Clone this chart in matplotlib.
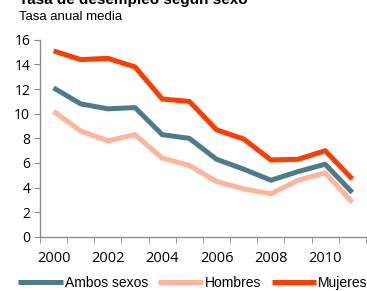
import numpy as np
import matplotlib.pyplot as plt

years = np.arange(2000, 2012)
ambos = [12.1, 10.8, 10.4, 10.5, 8.3, 8.0, 6.3, 5.5, 4.6, 5.3, 5.9, 3.6]
hombres = [10.2, 8.6, 7.8, 8.3, 6.4, 5.8, 4.5, 3.9, 3.5, 4.6, 5.2, 2.8]
mujeres = [15.1, 14.4, 14.5, 13.8, 11.2, 11.0, 8.7, 7.95, 6.25, 6.3, 7.0, 4.7]
series = [("Ambos sexos", ambos, "#4E7B8A"),
          ("Hombres", hombres, "#FFB49C"),
          ("Mujeres", mujeres, "#FF3D00")]

fig = plt.figure(figsize=(3.67, 2.91), dpi=100)
ax = fig.add_axes([0.109, 0.186, 0.888, 0.677])

x = np.arange(len(years))
for name, vals, col in series:
    ax.plot(x, vals, color=col, lw=3.6, label=name, solid_capstyle='butt')

ax.set_xlim(-0.5, len(years) - 0.5)
ax.set_ylim(0, 16)
ax.set_yticks(range(0, 17, 2))
ax.set_xticks(x[::2])
ax.set_xticklabels([str(y) for y in years[::2]])
ax.set_xticks(np.arange(-0.5, len(years), 1), minor=True)
ax.tick_params(axis='x', which='major', length=0, pad=10, labelsize=10.5)
ax.tick_params(axis='x', which='minor', length=4, color='#8C8C8C', direction='out')
ax.tick_params(axis='y', length=4, color='#8C8C8C', labelsize=10, pad=3)
for lab in ax.get_xticklabels() + ax.get_yticklabels():
    lab.set_fontfamily('Open Sans')
for s in ['top', 'right']:
    ax.spines[s].set_visible(False)
for s in ['left', 'bottom']:
    ax.spines[s].set_color('#8C8C8C')
    ax.spines[s].set_linewidth(1.0)

fig.text(0.052, 1.0, "Tasa de desempleo según sexo", fontsize=11, fontweight='bold',
         family='Liberation Sans', va='center', ha='left')
fig.text(0.052, 0.94, "Tasa anual media", fontsize=9.5,
         family='Liberation Sans', va='center', ha='left')

leg = fig.legend(loc='center', bbox_to_anchor=(0.526, 0.027), ncol=3, frameon=False,
                 prop={'family': 'Liberation Sans', 'size': 10},
                 handlelength=3.2, handletextpad=0.15, columnspacing=0.75,
                 borderaxespad=0, borderpad=0)

fig.savefig('out.png', dpi=100)
